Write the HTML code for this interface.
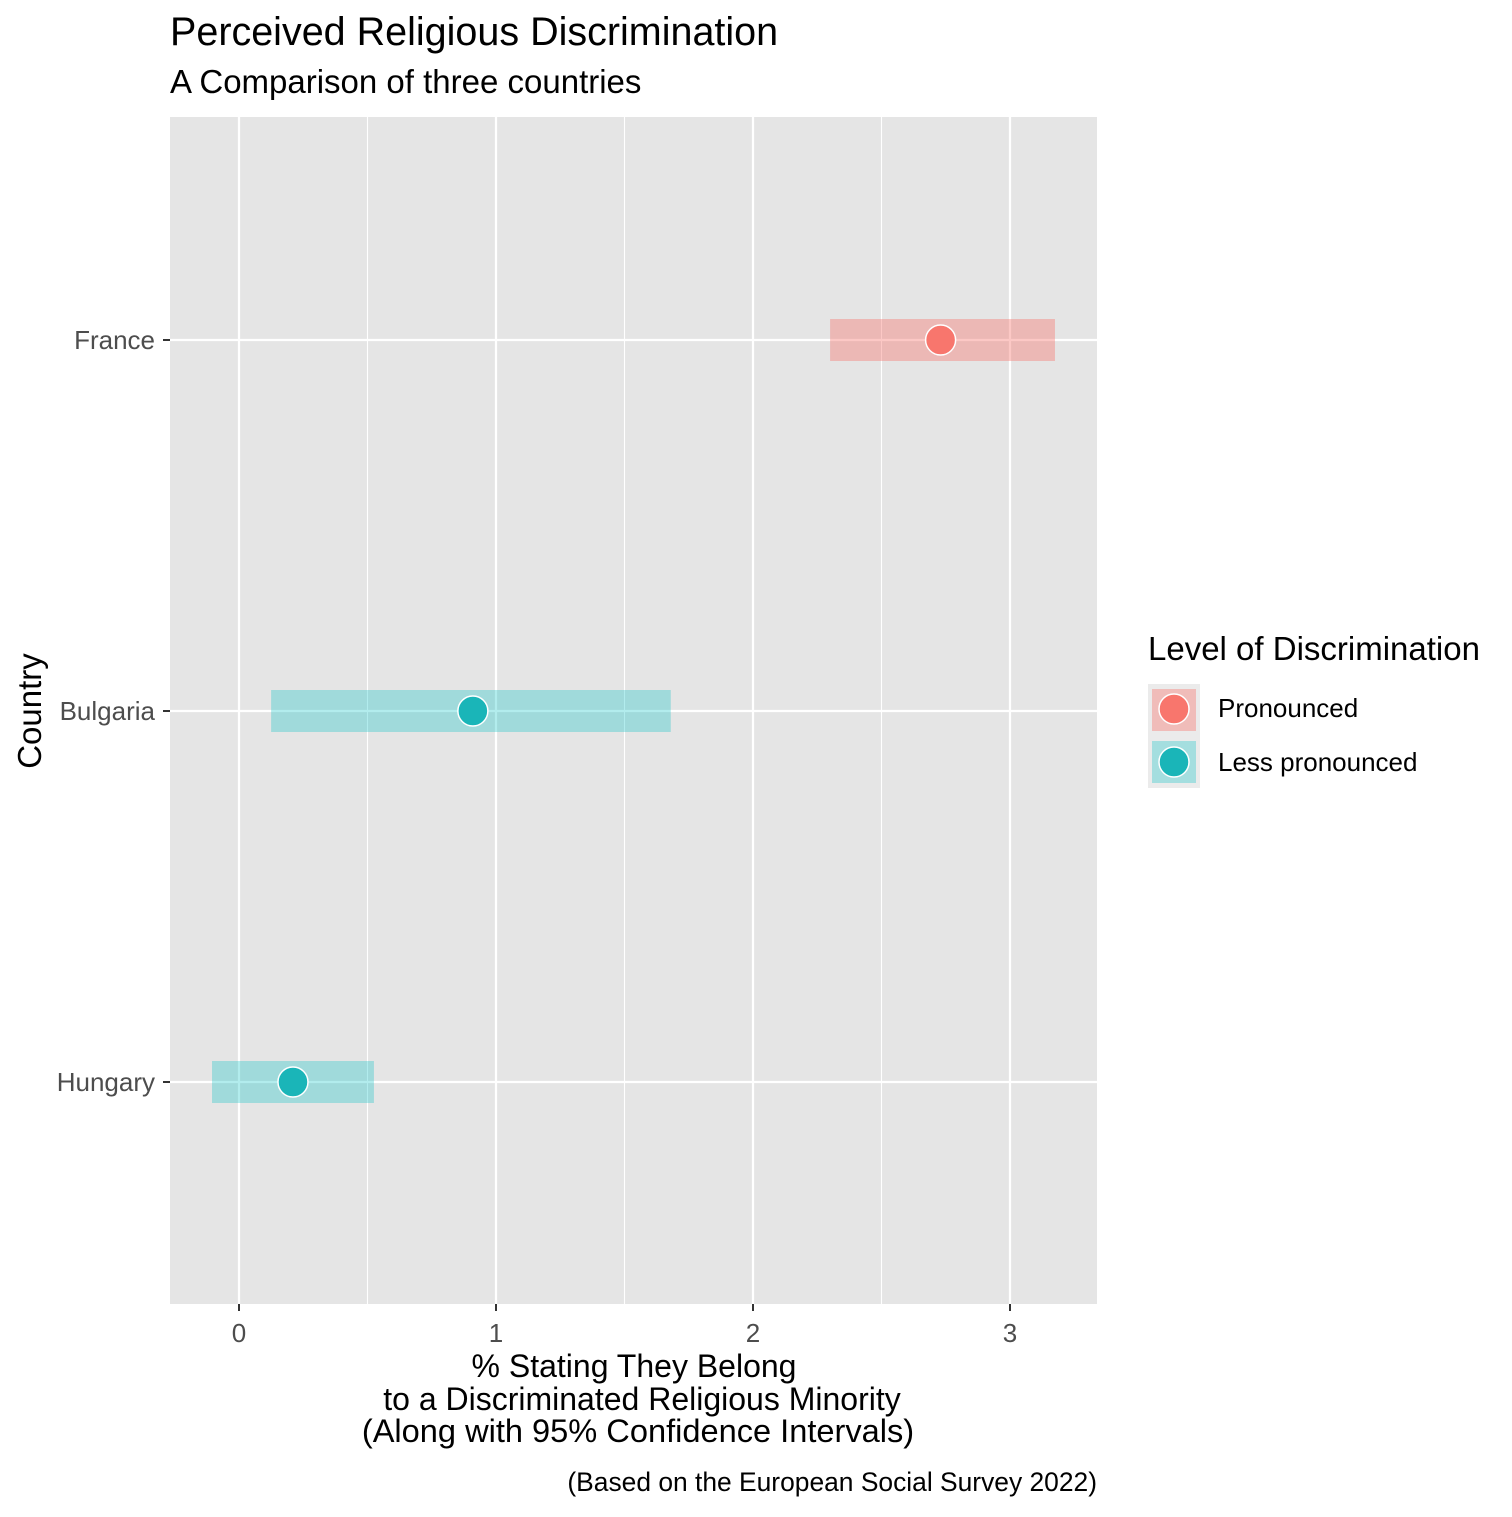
<!DOCTYPE html>
<html><head><meta charset="utf-8"><style>
body{margin:0;background:#fff;font-family:"Liberation Sans",Arial,sans-serif}
svg text{font-family:"Liberation Sans",Arial,sans-serif}
</style></head><body>
<svg id="chart" width="1512" height="1512" xmlns="http://www.w3.org/2000/svg">
<rect width="1512" height="1512" fill="#fff"/>
<text x="170" y="45" font-size="39.5" fill="#000">Perceived Religious Discrimination</text>
<text x="170" y="93" font-size="33" fill="#000">A Comparison of three countries</text>
<rect x="170" y="117" width="927" height="1187" fill="#e5e5e5"/>
<g id="grid"></g>
<g id="marks"></g>
<g id="axes"></g>
<text font-size="32" text-anchor="middle"><tspan x="634" y="1377">% Stating They Belong</tspan><tspan x="642" y="1410">to a Discriminated Religious Minority</tspan><tspan x="638" y="1442" font-size="32.6">(Along with 95% Confidence Intervals)</tspan></text>
<text x="41" y="711" font-size="33" text-anchor="middle" transform="rotate(-90 41 711)">Country</text>
<text x="1097" y="1491" font-size="26.4" text-anchor="end">(Based on the European Social Survey 2022)</text>
<g>
<text x="1148" y="660" font-size="33">Level of Discrimination</text>
<g>
<rect x="1148" y="684" width="52" height="52" fill="#ebebeb"/>
<rect x="1152" y="689" width="44" height="42" fill="#F8766D" fill-opacity="0.4"/>
<circle cx="1174" cy="709" r="15" fill="#F8766D" stroke="#fff" stroke-width="1.5"/>
<text x="1218" y="717" font-size="26">Pronounced</text></g>
<g>
<rect x="1148" y="736" width="52" height="52" fill="#ebebeb"/>
<rect x="1152" y="741" width="44" height="42" fill="#00BFC4" fill-opacity="0.3"/>
<circle cx="1174" cy="762" r="15" fill="#1AB5B8" stroke="#fff" stroke-width="1.5"/>
<text x="1218" y="771" font-size="26">Less pronounced</text></g>
</g>
</svg>
<script>
const countries=["France","Bulgaria","Hungary"];
const estimates=[2.73,0.91,0.21];
const lowerCI=[2.30,0.125,-0.105];
const upperCI=[3.175,1.68,0.525];
const levels=["Pronounced","Less pronounced","Less pronounced"];
const xTicks=[0,1,2,3];
const NS="http://www.w3.org/2000/svg";
const x=v=>239+v*257;
const y=i=>340+i*371;
function mk(tag,attrs,parent){const e=document.createElementNS(NS,tag);for(const k in attrs)e.setAttribute(k,attrs[k]);parent.appendChild(e);return e;}
const grid=document.getElementById('grid'),marks=document.getElementById('marks'),axes=document.getElementById('axes');
for(let t=0;t<=3;t+=0.5){const minor=!Number.isInteger(t);
const g=mk('line',{x1:x(t),x2:x(t),y1:117,y2:1304,stroke:'#fff','stroke-width':minor?1.1:2.2},grid);

}
countries.forEach((c,i)=>{const g=mk('line',{x1:170,x2:1097,y1:y(i),y2:y(i),stroke:'#fff','stroke-width':2.2},grid);

});
countries.forEach((c,i)=>{const col=levels[i]==="Pronounced"?"#F8766D":"#00BFC4";const op=levels[i]==="Pronounced"?0.4:0.3;
const r=mk('rect',{x:x(lowerCI[i]),y:y(i)-21,width:x(upperCI[i])-x(lowerCI[i]),height:42,fill:col,'fill-opacity':op},marks);


const p=mk('circle',{cx:x(estimates[i]),cy:y(i),r:15,fill:levels[i]==="Pronounced"?"#F8766D":"#1AB5B8",stroke:'#fff','stroke-width':1.5},marks);


const tk=mk('line',{x1:163,x2:170,y1:y(i),y2:y(i),stroke:'#333','stroke-width':2},axes);


const tl=mk('text',{x:155,y:y(i)+9,'font-size':26,'text-anchor':'end',fill:'#4d4d4d'},axes);tl.textContent=c;

});
xTicks.forEach(t=>{const tk=mk('line',{x1:x(t),x2:x(t),y1:1304,y2:1311,stroke:'#333','stroke-width':2},axes);


const tl=mk('text',{x:x(t),y:1342,'font-size':26,'text-anchor':'middle',fill:'#4d4d4d'},axes);tl.textContent=t;

});
</script>
</body></html>
